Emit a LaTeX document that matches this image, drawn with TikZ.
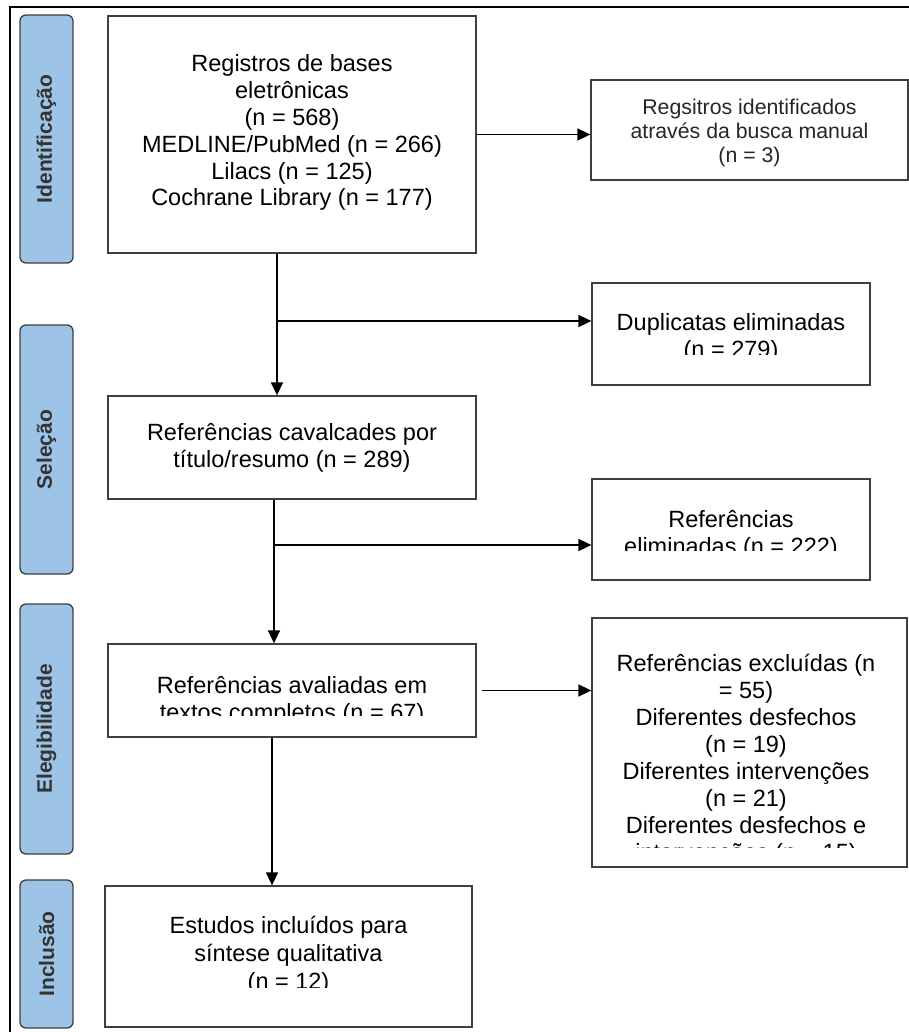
\documentclass[tikz,border=0pt]{standalone}
\usepackage{fontspec}
\setmainfont{Liberation Sans}
\usepackage{tikz}
\usepackage{xcolor}
\usetikzlibrary{arrows.meta,positioning}

\definecolor{barblue}{HTML}{9DC3E6}
\definecolor{edge}{HTML}{3F3F3F}

\begin{document}
\begin{tikzpicture}[x=1pt,y=-1pt,
            box/.style={shape=rectangle, draw=edge, line width=1.3pt, inner sep=0pt},
            bar/.style={shape=rectangle, rotate=90, rounded corners=6pt, draw=edge, fill=barblue, line width=1.3pt, minimum height=53pt, inner sep=0pt, font=\fontsize{21}{24}\selectfont\bfseries, text=black!80},
            txt/.style={align=center, anchor=base, inner sep=0pt, font=\fontsize{23.5}{27}\selectfont},
            >={Triangle[length=13pt,width=12pt]}]
        \useasboundingbox (0,0) rectangle (909,1032);
        \draw[line width=2pt] (10,1032) -- (10,7) -- (909,7);

        \node[bar, minimum width=248pt] (idbar) at (46.5,139) {Identificação};
        \node[bar, minimum width=249pt] (selbar) at (46.5,449.5) {Seleção};
        \node[bar, minimum width=250pt] (elbar) at (46.5,729) {Elegibilidade};
        \node[bar, minimum width=148pt] (incbar) at (46.5,954) {Inclusão};

        \node[box, minimum width=368pt, minimum height=237pt] (reg) at (292,134.5) {};
        \node[box, minimum width=317pt, minimum height=100pt] (man) at (749.5,130) {};
        \node[box, minimum width=278pt, minimum height=102pt] (dup) at (731,334) {};
        \node[box, minimum width=368pt, minimum height=103pt] (tri) at (292,447.5) {};
        \node[box, minimum width=278pt, minimum height=101pt] (elim) at (731,529.5) {};
        \node[box, minimum width=368pt, minimum height=93pt] (aval) at (292,690.5) {};
        \node[box, minimum width=315pt, minimum height=249pt] (excl) at (749.5,742.5) {};
        \node[box, minimum width=367pt, minimum height=141pt] (incl) at (288.5,956.5) {};

        % anchor=base sits on the last line
        \node[txt, font=\fontsize{23.5}{26.8}\selectfont] (regtxt) at (292,206) {Registros de bases\\eletrônicas\\(n = 568)\\MEDLINE/PubMed (n = 266)\\Lilacs (n = 125)\\Cochrane Library (n = 177)};
        \node[txt, font=\fontsize{21.3}{24}\selectfont, text=black!85] (mantxt) at (749.5,163) {Regsitros identificados\\através da busca manual\\(n = 3)};
        \node[txt] (tritxt) at (292,467) {Referências cavalcades por\\título/resumo (n = 289)};
        \begin{scope}
            \clip (592,283) rectangle (870,354);
            \node[txt] (duptxt) at (731,357) {Duplicatas eliminadas\\(n = 279)};
        \end{scope}
        \begin{scope}
            \clip (592,479) rectangle (870,550);
            \node[txt] (elimtxt) at (731,554) {Referências\\eliminadas (n = 222)};
        \end{scope}
        \begin{scope}
            \clip (108,644) rectangle (476,715);
            \node[txt] (avaltxt) at (292,720) {Referências avaliadas em\\textos completos (n = 67)};
        \end{scope}
        \begin{scope}
            \clip (592,618) rectangle (907,847);
            \node[txt] (excltxt) at (746,860) {Referências excluídas (n\\= 55)\\Diferentes desfechos\\(n = 19)\\Diferentes intervenções\\(n = 21)\\Diferentes desfechos e\\intervenções (n = 15)};
        \end{scope}
        \begin{scope}
            \clip (105,886) rectangle (472,987);
            \node[txt, font=\fontsize{23.5}{28}\selectfont] (incltxt) at (288.5,989) {Estudos incluídos para\\síntese qualitativa\\(n = 12)};
        \end{scope}

        \coordinate (v1) at (277,321);
        \coordinate (v2) at (274,545);
        \coordinate (v3) at (272,800);
        \draw[line width=1.5pt,->] (reg.east) -- (reg.east -| man.west);
        \draw[line width=1.5pt,->] (reg.south -| v1) -- (tri.north -| v1);
        \draw[line width=1.5pt,->] (v1) -- (v1 -| dup.west);
        \draw[line width=1.5pt,->] (tri.south -| v2) -- (aval.north -| v2);
        \draw[line width=1.5pt,->] (v2) -- (v2 -| elim.west);
        \draw[line width=1.5pt,->] ([xshift=5pt]aval.east) -- (aval.east -| excl.west);
        \draw[line width=1.5pt,->] (aval.south -| v3) -- (incl.north -| v3);
    \end{tikzpicture}
\end{document}
